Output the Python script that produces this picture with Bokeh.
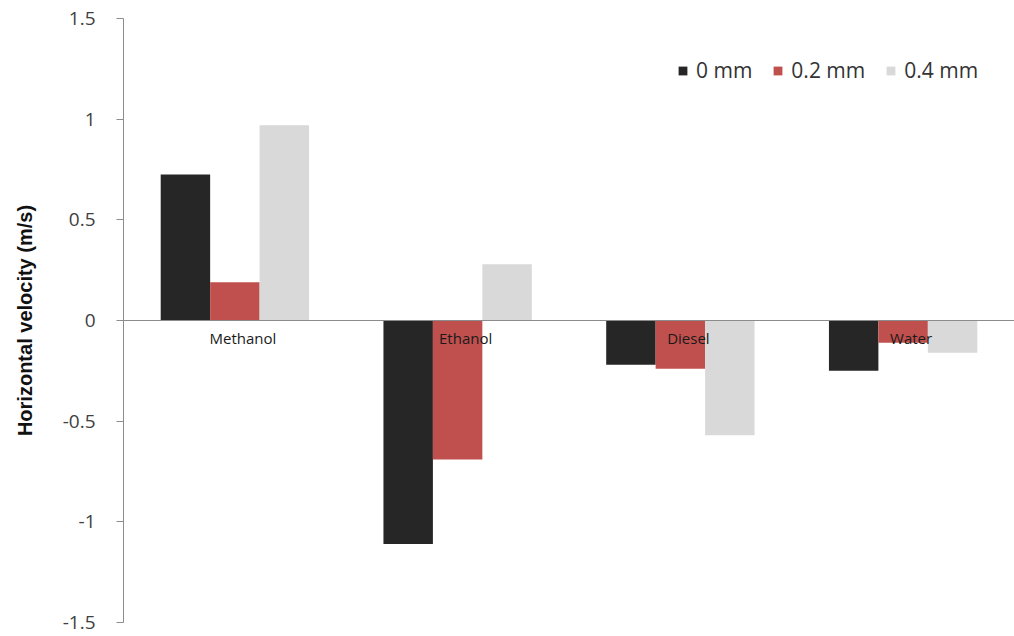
from bokeh.plotting import figure
from bokeh.models import (ColumnDataSource, FactorRange, Range1d, Span, Legend,
                          LegendItem, FixedTicker)
from bokeh.transform import dodge
from bokeh.core.properties import value
from bokeh.embed import file_html
from bokeh.resources import INLINE

# Fluids and horizontal droplet velocity (m/s) for three gap widths
fluids = ["Methanol", "Ethanol", "Diesel", "Water"]
v_0mm = [0.725, -1.11, -0.22, -0.25]
v_02mm = [0.19, -0.69, -0.24, -0.11]
v_04mm = [0.97, 0.28, -0.57, -0.16]
series_names = ["0 mm", "0.2 mm", "0.4 mm"]
y_ticks = [-1.5, -1.0, -0.5, 0.0, 0.5, 1.0, 1.5]

colors = ["#262626", "#c0504d", "#d9d9d9"]

src = ColumnDataSource(dict(fluid=fluids, a=v_0mm, b=v_02mm, c=v_04mm,
                            zero=[0.0] * len(fluids)))

p = figure(width=1014, height=636, x_range=FactorRange(factors=fluids),
           y_range=Range1d(-1.5, 1.5), output_backend="svg",
           toolbar_location=None, x_axis_location=None,
           min_border_left=123, min_border_right=0,
           min_border_top=18, min_border_bottom=14)
p.outline_line_color = None
p.grid.visible = False
p.background_fill_color = "white"

bar_w = 0.222
renderers = []
for col, off, color in zip(["a", "b", "c"], [-bar_w, 0.0, bar_w], colors):
    r = p.vbar(x=dodge("fluid", off, range=p.x_range), top=col, bottom=0,
               width=bar_w, source=src, fill_color=color, line_color=None)
    renderers.append(r)

# zero line acting as the category axis
p.add_layout(Span(location=0, dimension="width", line_color="#8c8c8c",
                  line_width=1.2))

# category names sit just under the zero line, over the bars
p.text(x="fluid", y="zero", text="fluid", source=src, x_offset=8, y_offset=17,
       text_align="center", text_baseline="middle", text_font_size="15px",
       text_font=value("Open Sans"), text_color="#1a1a1a")

yax = p.yaxis[0]
yax.ticker = FixedTicker(ticks=y_ticks)
yax.major_label_overrides = {-1.5: "-1.5", -1.0: "-1", -0.5: "-0.5", 0.0: "0",
                             0.5: "0.5", 1.0: "1", 1.5: "1.5"}
yax.minor_tick_line_color = None
yax.major_tick_in = 0
yax.major_tick_out = 7
yax.axis_line_color = "#8c8c8c"
yax.major_tick_line_color = "#8c8c8c"
yax.major_label_text_font = "Open Sans"
yax.major_label_text_font_size = "19px"
yax.major_label_text_color = "#404040"
yax.major_label_standoff = 21
yax.axis_label = "Horizontal velocity (m/s)"
yax.axis_label_text_font = "Liberation Sans"
yax.axis_label_text_font_style = "bold"
yax.axis_label_text_font_size = "20px"
yax.axis_label_text_color = "#111111"
yax.axis_label_standoff = 24

legend = Legend(items=[LegendItem(label=n, renderers=[r])
                       for n, r in zip(series_names, renderers)],
                orientation="horizontal", location=(554, 538),
                glyph_width=11, glyph_height=11, label_standoff=8, spacing=20,
                padding=0, margin=0, border_line_color=None,
                background_fill_alpha=0, label_text_font="Open Sans",
                label_text_font_size="21px", label_text_color="#333333")
p.add_layout(legend)

open("out.html", "w").write(file_html(p, INLINE))
